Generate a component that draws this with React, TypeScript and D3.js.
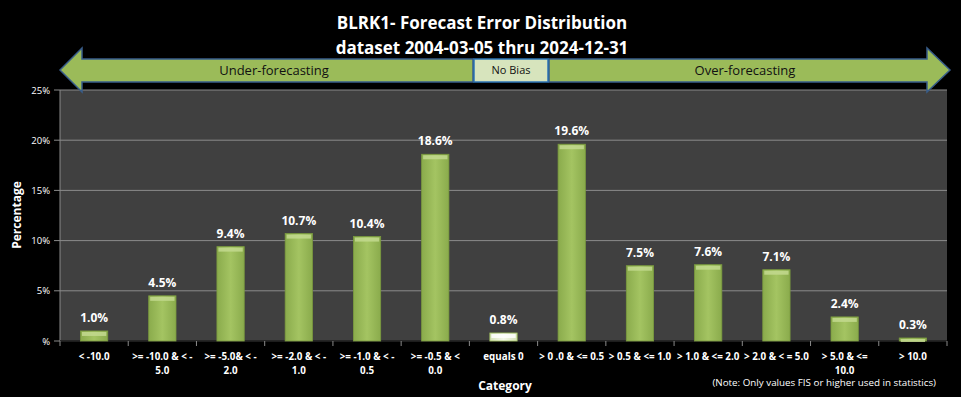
import React from "react";
import * as d3 from "d3";

// Chart data
const categories: string[][] = [
  ["< -10.0"],
  [">= -10.0 & < -", "5.0"],
  [">= -5.0& < -", "2.0"],
  [">= -2.0 & < -", "1.0"],
  [">= -1.0 & < -", "0.5"],
  [">= -0.5 & <", "0.0"],
  ["equals 0"],
  ["> 0 .0 & <= 0.5"],
  ["> 0.5 & <= 1.0"],
  ["> 1.0 & <= 2.0"],
  ["> 2.0 & < = 5.0"],
  ["> 5.0 & <=", "10.0"],
  ["> 10.0"],
];
const values: number[] = [1.0, 4.5, 9.4, 10.7, 10.4, 18.6, 0.8, 19.6, 7.5, 7.6, 7.1, 2.4, 0.3];
const yTicks: number[] = [0, 5, 10, 15, 20, 25];
const noBiasIndex = 6;

const W = 961;
const H = 397;
const left = 60;
const right = 947;
const top = 90;
const bottom = 341;
const font = "'Open Sans', 'Noto Sans', sans-serif";

export default function App() {
  const x = d3
    .scaleBand<number>()
    .domain(d3.range(values.length))
    .range([left, right])
    .paddingInner(0.6)
    .paddingOuter(0.3);
  const y = d3.scaleLinear().domain([0, 25]).range([bottom, top]);
  const step = x.step();
  const tickXs = d3.range(values.length + 1).map((i) => left + ((right - left) * i) / values.length);

  // arrows
  const ay = 70, bodyT = 59, bodyB = 82, headT = 48, headB = 92;
  const leftArrow = `M60,${ay} L82,${headT} L82,${bodyT} L473,${bodyT} L473,${bodyB} L82,${bodyB} L82,${headB} Z`;
  const rightArrow = `M950,${ay} L927,${headT} L927,${bodyT} L549,${bodyT} L549,${bodyB} L927,${bodyB} L927,${headB} Z`;

  return (
    <svg width={W} height={H} style={{ position: "absolute", left: 0, top: 0, background: "#000" }}>
      <defs>
        <linearGradient id="barGrad" x1="0" x2="1" y1="0" y2="0">
          <stop offset="0" stopColor="#8aab4c" />
          <stop offset="0.5" stopColor="#a4c462" />
          <stop offset="1" stopColor="#8aab4c" />
        </linearGradient>
        <linearGradient id="zeroGrad" x1="0" x2="1" y1="0" y2="0">
          <stop offset="0" stopColor="#d5e2b8" />
          <stop offset="0.5" stopColor="#f4f8ea" />
          <stop offset="1" stopColor="#d5e2b8" />
        </linearGradient>
      </defs>
      <rect x={0} y={0} width={W} height={H} fill="#000" />

      {/* titles */}
      <text x={482} y={29} textAnchor="middle" fill="#fff" fontFamily={font} fontWeight="bold" fontSize={17}>
        BLRK1- Forecast Error Distribution
      </text>
      <text x={482} y={54} textAnchor="middle" fill="#fff" fontFamily={font} fontWeight="bold" fontSize={17}>
        dataset 2004-03-05 thru 2024-12-31
      </text>

      {/* plot area */}
      <rect x={left} y={top} width={right - left} height={bottom - top} fill="#404040" />
      {yTicks.map((t) => (
        <g key={t}>
          <line x1={left} x2={right} y1={y(t)} y2={y(t)} stroke="#8a8a8a" strokeWidth={1} />
          <line x1={left - 6} x2={left} y1={y(t)} y2={y(t)} stroke="#8a8a8a" />
          <text x={50} y={y(t) + 3.5} textAnchor="end" fill="#fff" fontFamily={font} fontSize={9.5}>
            {t === 0 ? "%" : `${t}%`}
          </text>
        </g>
      ))}
      <line x1={left} x2={left} y1={top} y2={bottom} stroke="#8a8a8a" />
      <line x1={left} x2={right} y1={bottom} y2={bottom} stroke="#111" strokeWidth={1.5} />
      {tickXs.map((tx, i) => (
        <line key={i} x1={tx} x2={tx} y1={bottom} y2={bottom + 5} stroke="#8a8a8a" />
      ))}

      {/* bars */}
      {values.map((v, i) => {
        const bx = x(i)!;
        const bw = x.bandwidth();
        const by = y(v);
        const bh = bottom - by;
        const zero = i === noBiasIndex;
        const cap = Math.min(4, bh);
        return (
          <g key={i}>
            <rect x={bx} y={by} width={bw} height={bh} fill={zero ? "url(#zeroGrad)" : "url(#barGrad)"} stroke={zero ? "#9bbb59" : "#7a9a3e"} strokeWidth={0.8} />
            <rect x={bx + 1.5} y={by + 1} width={bw - 3} height={cap} fill={zero ? "#ffffff" : "#c3d98f"} opacity={0.85} />
            <text x={bx + bw / 2} y={by - 9} textAnchor="middle" fill="#fff" fontFamily={font} fontWeight="bold" fontSize={12}>
              {v.toFixed(1)}%
            </text>
          </g>
        );
      })}

      {/* category labels */}
      {categories.map((lines, i) => (
        <text key={i} textAnchor="middle" fill="#fff" fontFamily={font} fontWeight="bold" fontSize={9.8}>
          {lines.map((l, j) => (
            <tspan key={j} x={left + step * (i + 0.5)} y={360 + j * 14}>
              {l}
            </tspan>
          ))}
        </text>
      ))}

      {/* axis titles */}
      <text transform="translate(21,215) rotate(-90)" textAnchor="middle" fill="#fff" fontFamily={font} fontWeight="bold" fontSize={12}>
        Percentage
      </text>
      <text x={505} y={390} textAnchor="middle" fill="#fff" fontFamily={font} fontWeight="bold" fontSize={12}>
        Category
      </text>
      <text x={936} y={386} textAnchor="end" fill="#fff" fontFamily={font} fontSize={9.8}>
        (Note: Only values FIS or higher used in statistics)
      </text>

      {/* bias arrows */}
      <path d={leftArrow} fill="#9bbb59" stroke="#385d8a" strokeWidth={1.5} strokeLinejoin="miter" />
      <path d={rightArrow} fill="#9bbb59" stroke="#385d8a" strokeWidth={1.5} strokeLinejoin="miter" />
      <rect x={474} y={bodyT} width={74} height={bodyB - bodyT} fill="#d7e4bd" stroke="#2e75b6" strokeWidth={1.5} />
      <text x={274} y={75} textAnchor="middle" fill="#111" fontFamily={font} fontSize={13}>
        Under-forecasting
      </text>
      <text x={745} y={75} textAnchor="middle" fill="#111" fontFamily={font} fontSize={13}>
        Over-forecasting
      </text>
      <text x={511} y={74} textAnchor="middle" fill="#111" fontFamily={font} fontSize={11}>
        No  Bias
      </text>
    </svg>
  );
}
